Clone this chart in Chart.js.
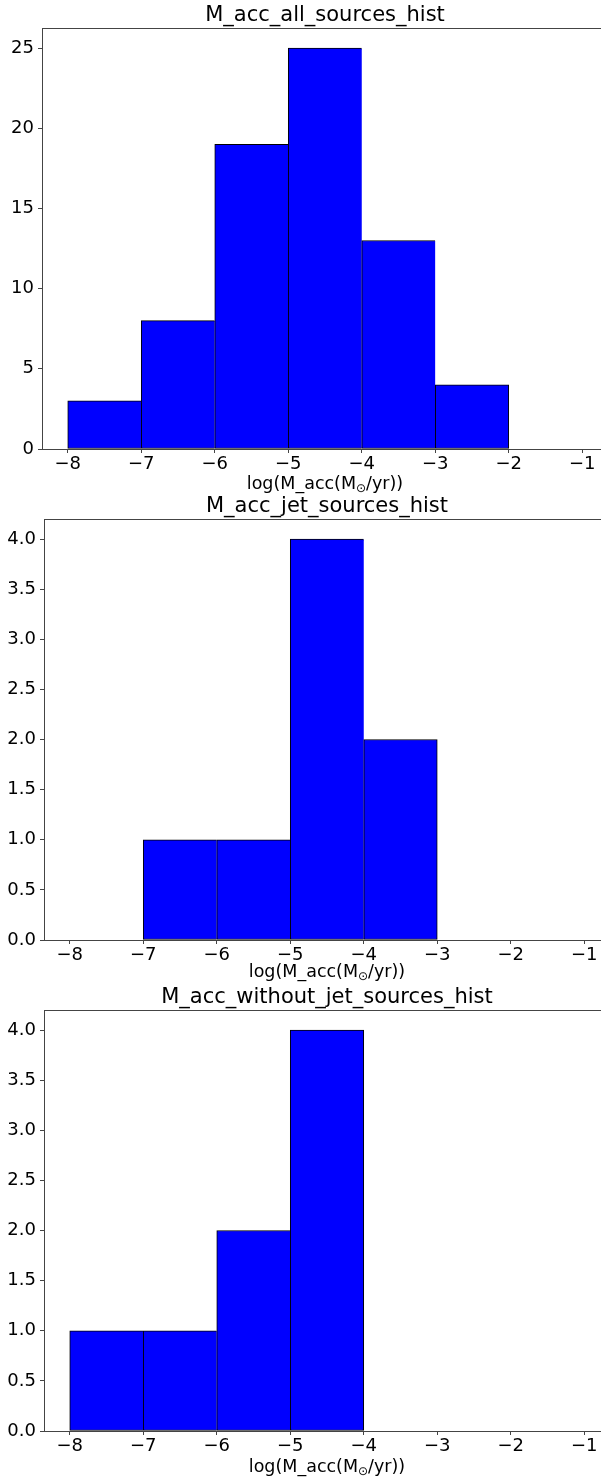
<!DOCTYPE html>
<html>
<head>
<meta charset="utf-8">
<title>M_acc histograms</title>
<script src="https://cdn.jsdelivr.net/npm/chart.js@4.4.1/dist/chart.umd.min.js"></script>
<style>
  html, body { margin: 0; padding: 0; background: #fff; overflow: hidden; width: 601px; height: 1480px; }
  canvas { position: absolute; left: 0; }
</style>
</head>
<body>
<canvas id="histAll" width="650" height="495" style="top:0px"></canvas>
<canvas id="histJet" width="650" height="490" style="top:495px"></canvas>
<canvas id="histNoJet" width="650" height="495" style="top:985px"></canvas>
<script>
// bin edges (log M_acc) and counts per bin
const binEdgesAll = [-8, -7, -6, -5, -4, -3, -2];
const countsAll = [3, 8, 19, 25, 13, 4];
const binEdgesJet = [-7, -6, -5, -4, -3];
const countsJet = [1, 1, 4, 2];
const binEdgesNoJet = [-8, -7, -6, -5, -4];
const countsNoJet = [1, 1, 2, 4];

const xTicks = [-8, -7, -6, -5, -4, -3, -2, -1];
const yTicksAll = [0, 5, 10, 15, 20, 25];
const yTicksHalf = [0, 0.5, 1, 1.5, 2, 2.5, 3, 3.5, 4];

const X_MIN = -8.35, X_MAX = -0.65;
const FONT = '"DejaVu Sans", sans-serif';
const SPINE = '#444';

Chart.defaults.font.family = FONT;
Chart.defaults.color = '#000';

// frame, title above the axes and the x label with a subscript sun
const axesDecor = {
  id: 'axesDecor',
  afterDraw(chart, args, opts) {
    const { ctx, chartArea: a } = chart;
    const l = Math.round(a.left) + 0.5, r = Math.round(a.right) + 0.5;
    const t = Math.round(a.top) + 0.5, b = Math.round(a.bottom) + 0.5;
    ctx.save();
    ctx.strokeStyle = SPINE;
    ctx.lineWidth = 1;
    ctx.strokeRect(l, t, r - l, b - t);

    const cx = (a.left + a.right) / 2;
    ctx.fillStyle = '#000';
    ctx.textAlign = 'center';
    ctx.textBaseline = 'alphabetic';
    ctx.font = '21px ' + FONT;
    ctx.fillText(opts.title, cx, a.top - 7);

    // log(M_acc(M⊙/yr)) — the ⊙ is set smaller and dropped
    const big = '17.5px ' + FONT, small = '12px ' + FONT;
    const parts = [['log(M_acc(M', big, 0], ['\u2299', small, 3], ['/yr))', big, 0]];
    let total = 0;
    parts.forEach(p => { ctx.font = p[1]; p.push(ctx.measureText(p[0]).width); total += p[3]; });
    let x = cx - total / 2;
    const base = a.bottom + opts.xlabelOffset;
    ctx.textAlign = 'left';
    parts.forEach(p => {
      ctx.font = p[1];
      ctx.fillText(p[0], x, base + p[2]);
      x += p[3];
    });
    ctx.restore();
  }
};

function makeHist(id, edges, counts, yTicks, yMax, title, box) {
  const last = counts.length - 1;
  const points = counts.map((c, i) => ({ x: (edges[i] + edges[i + 1]) / 2, y: c }));
  const tickGrid = { display: true, offset: false, drawOnChartArea: false, drawTicks: true, tickLength: 4, tickColor: SPINE, lineWidth: 1 };
  return new Chart(document.getElementById(id), {
    type: 'bar',
    data: {
      datasets: [{
        data: points,
        backgroundColor: '#0000ff',
        borderColor: '#000',
        borderWidth: ctx => ({ top: 1, bottom: 1, left: 1, right: ctx.dataIndex === last ? 1 : 0 }),
        borderSkipped: false,
        barPercentage: 1,
        categoryPercentage: 1
      }]
    },
    options: {
      responsive: false,
      devicePixelRatio: 1,
      animation: false,
      layout: { padding: { top: box.top, right: box.right, left: 0, bottom: 0 } },
      plugins: {
        legend: { display: false },
        tooltip: { enabled: false },
        title: { display: false },
        axesDecor: { title: title, xlabelOffset: box.xlabel }
      },
      scales: {
        x: {
          type: 'linear',
          min: X_MIN,
          max: X_MAX,
          offset: false,
          grid: tickGrid,
          border: { display: false },
          afterBuildTicks: s => { s.ticks = xTicks.map(v => ({ value: v })); },
          afterFit: s => { s.height = box.xh; },
          ticks: {
            autoSkip: false,
            maxRotation: 0,
            padding: 1,
            font: { size: 18 },
            color: '#000',
            callback: v => String(v).replace('-', '\u2212')
          }
        },
        y: {
          min: 0,
          max: yMax,
          grid: tickGrid,
          border: { display: false },
          afterBuildTicks: s => { s.ticks = yTicks.map(v => ({ value: v })); },
          afterFit: s => { s.width = box.yw; },
          ticks: {
            padding: 4,
            font: { size: 18 },
            color: '#000',
            callback: v => (yMax < 10 ? v.toFixed(1) : String(v))
          }
        }
      }
    },
    plugins: [axesDecor]
  });
}

makeHist('histAll', binEdgesAll, countsAll, yTicksAll, 26.25, 'M_acc_all_sources_hist',
  { top: 28, right: 42, yw: 42, xh: 46, xlabel: 40 });
makeHist('histJet', binEdgesJet, countsJet, yTicksHalf, 4.2, 'M_acc_jet_sources_hist',
  { top: 24, right: 40, yw: 44, xh: 45, xlabel: 37 });
makeHist('histNoJet', binEdgesNoJet, countsNoJet, yTicksHalf, 4.2, 'M_acc_without_jet_sources_hist',
  { top: 25, right: 40, yw: 44, xh: 49, xlabel: 41 });
</script>
</body>
</html>
